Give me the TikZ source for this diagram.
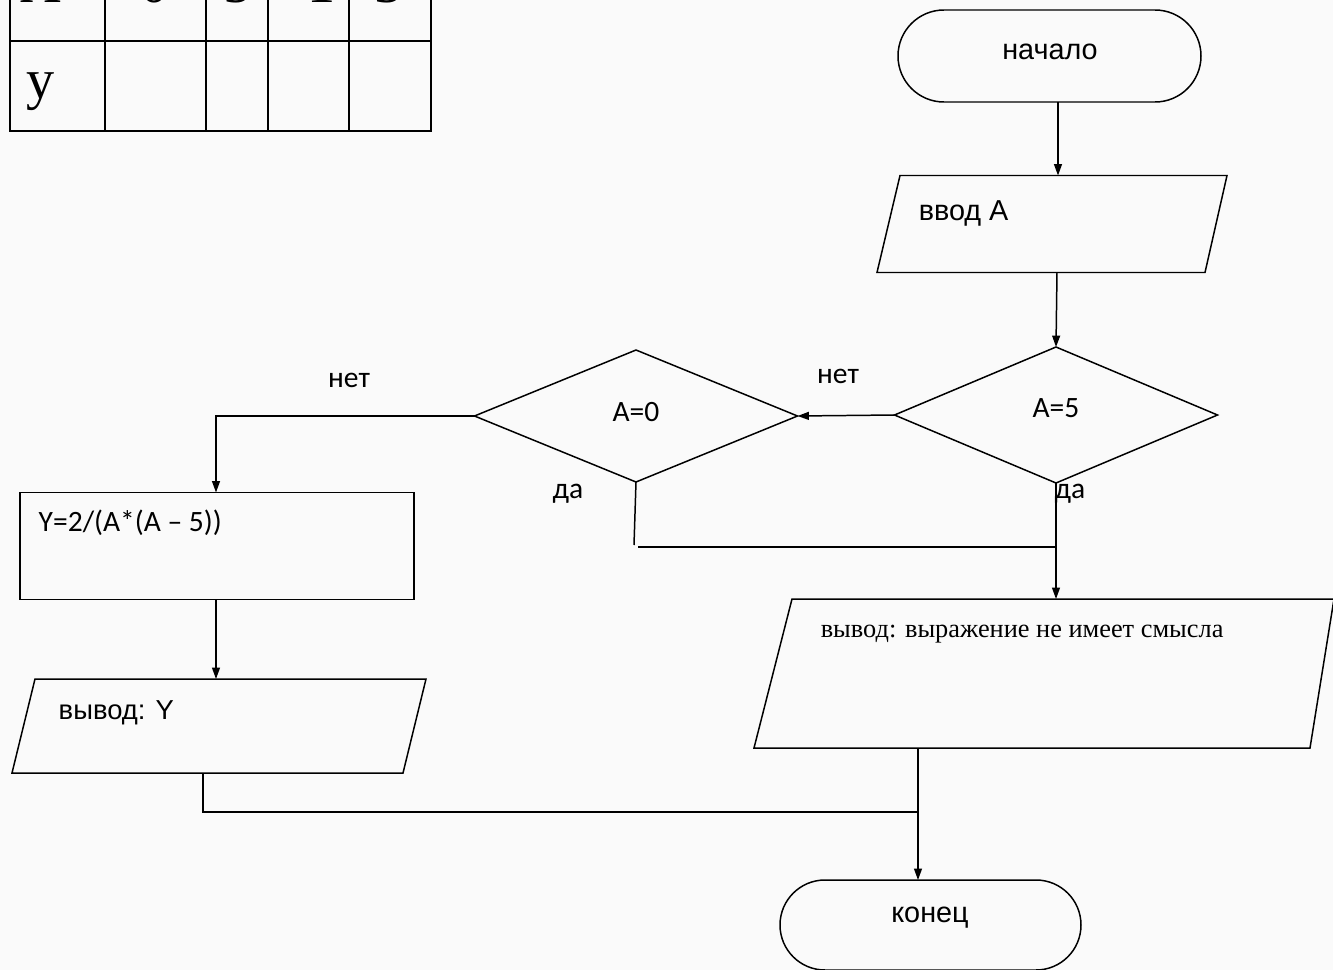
\documentclass[tikz,border=0pt]{standalone}
\usepackage{fontspec}
\setmainfont{Liberation Sans}
\newfontfamily\arialf{Liberation Sans}
\newfontfamily\calf{Carlito}
\newfontfamily\timesf{Liberation Serif}
\usetikzlibrary{arrows.meta,shapes.geometric,shapes.misc,calc}
\newcommand\pxu{0.02cm}
\begin{document}
\begin{tikzpicture}[x=0.02cm,y=-0.02cm,
  line width=0.85pt,
  shapebox/.style={draw=none,inner sep=0pt,outer sep=0pt,rectangle},
  termbox/.style={draw,rounded rectangle,inner sep=0pt,outer sep=0pt},
  rbox/.style={draw,rectangle,inner sep=0pt,outer sep=0pt},
  dia/.style={draw,diamond,inner sep=0pt,outer sep=0pt},
  txtA/.style={font=\arialf\fontsize{16.4}{19}\selectfont,inner sep=0pt},
  txtC/.style={font=\calf\fontsize{16.8}{19}\selectfont,inner sep=0pt},
  txtT/.style={font=\timesf\fontsize{15}{18}\selectfont,inner sep=0pt},
  tabt/.style={font=\timesf\fontsize{32}{36}\selectfont,inner sep=0pt},
  arr/.style={-{Triangle[length=6.5pt,width=4.5pt]}},
]
\fill[gray!4] (0,0) rectangle (1333,970);
\useasboundingbox (0,0) rectangle (1333,970);
\clip (0,0) rectangle (1333,970);

% table
\draw[line width=1.1pt] (10,-60) -- (10,131) -- (431,131) -- (431,-60);
\draw[line width=1.1pt] (10,41) -- (431,41);
\foreach \xx in {105,206,268,349} \draw[line width=1.1pt] (\xx,-60) -- (\xx,131);
\node[tabt,anchor=base west] (tA) at (20,2.5) {А};
\node[tabt,anchor=base] (t0) at (155,2.5) {0};
\node[tabt,anchor=base] (t5) at (238,2.5) {5};
\node[tabt,anchor=base] (t1) at (322,2.5) {1};
\node[tabt,anchor=base] (t3) at (389,2.5) {3};
\node[tabt,anchor=base west] (ty) at (26,98) {у};

% start
\node[termbox,minimum width=303*\pxu,minimum height=92*\pxu] (start) at (1049.5,56) {};
\node[txtA] (starttxt) at (1050,52) {начало};

% input
\node[shapebox,minimum width=350*\pxu,minimum height=97*\pxu] (inp) at (1052,224) {};
\draw (inp.north west) ++(23,0) -- (inp.north east) -- ++(-22,97) -- (inp.south west) -- cycle;
\node[txtA,anchor=west] (inptxt) at (918,213) {ввод А};

% diamonds
\node[dia,minimum width=323*\pxu,minimum height=136*\pxu] (d5) at (1056,415) {};
\node[txtC] (d5txt) at (1056,408) {A=5};
\node[dia,minimum width=323*\pxu,minimum height=132*\pxu] (d0) at (636,416) {};
\node[txtC] (d0txt) at (636,412) {A=0};

\node[txtC] (no1) at (838,376) {нет};
\node[txtC] (no2) at (349,380) {нет};
\node[txtC] (yes1) at (568,494) {да};
\node[txtC] (yes2) at (1070,494) {да};

% formula box
\node[rbox,minimum width=394*\pxu,minimum height=107*\pxu] (calc) at (217,546) {};
\node[txtC,anchor=west] (calctxt) at (38,523) {Y=2/(A*(A – 5))};

% output Y
\node[shapebox,minimum width=414*\pxu,minimum height=94*\pxu] (outY) at (219,726) {};
\draw (outY.north west) ++(23,0) -- (outY.north east) -- ++(-23,94) -- (outY.south west) -- cycle;
\node[txtA,font=\arialf\fontsize{15.6}{19}\selectfont,anchor=west] (outYtxt) at (58,713) {вывод: Y};

% output message
\node[shapebox,minimum width=580*\pxu,minimum height=149*\pxu] (outM) at (1044,673.5) {};
\draw (outM.north west) ++(38,0) -- (outM.north east) -- ++(-24,149) -- (outM.south west) -- cycle;
\node[txtT,anchor=west] (outMtxt) at (820,634) {вывод: выражение не имеет смысла};

% end
\node[termbox,minimum width=301*\pxu,minimum height=90*\pxu] (stop) at (930.5,925) {};
\node[txtA] (stoptxt) at (930,918) {конец};

% connectors
\coordinate (j1) at (634,545);
\coordinate (j2) at (638,547);
\coordinate (j3) at (203,812);
\draw[arr] (start.south -| 1058,0) -- (inp.north -| 1058,0);
\draw[arr] (inp.south -| 1057,0) -- (d5.north);
\draw[arr] (d5.west) -- (d0.east);
\draw[arr] (d0.west) -- (216,416) -- (calc.north -| 216,0);
\draw (d0.south) -- (j1);
\draw (j2) -- (1056,547);
\draw[arr] (d5.south) -- (outM.north -| 1056,0);
\draw[arr] (calc.south -| 216,0) -- (outY.north -| 216,0);
\draw (outY.south -| 203,0) -- (j3) -- (918,812);
\draw[arr] (outM.south -| 918,0) -- (stop.north -| 918,0);
\end{tikzpicture}
\end{document}
